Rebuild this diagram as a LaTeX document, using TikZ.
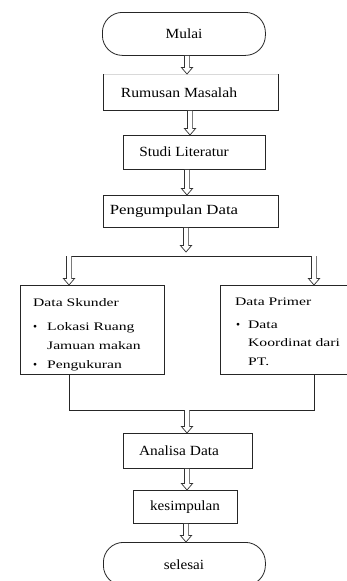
\documentclass[tikz,border=0pt]{standalone}
\usepackage{fontspec}
\setmainfont{Liberation Serif}
\usetikzlibrary{calc}
\newcommand{\hollowarrow}[2]{%
  \draw[hollowstyle] let \p1=(#1), \p2=(#2) in
    (\x1-2.6pt,\y1) -- (\x1-2.6pt,\y2+6.5pt) -- (\x1-5.6pt,\y2+6.5pt) -- (\x1,\y2)
    -- (\x1+5.6pt,\y2+6.5pt) -- (\x1+2.6pt,\y2+6.5pt) -- (\x1+2.6pt,\y1);}
\newcommand{\wide}[1]{\scalebox{1.36}[1]{#1}}
\begin{document}
\begin{tikzpicture}[x=1pt,y=-1pt,
  box/.style={draw=black!85, line width=0.8pt, inner sep=0pt, anchor=north west},
  term/.style={draw=black!85, line width=0.8pt, rounded corners=20pt, inner sep=0pt, anchor=north west},
  lbl/.style={font=\fontsize{14}{16}\selectfont, inner sep=0pt, text=black},
  sub/.style={font=\fontsize{11.5}{13}\selectfont, inner sep=0pt, anchor=base west, text=black},
  hollowstyle/.style={draw=black!80, fill=white, line width=0.7pt, line join=miter},
  link/.style={line width=0.8pt, draw=black!85}
]
\useasboundingbox (0,0) rectangle (347,581);
\fill[white] (0,0) rectangle (347,581);

% terminators and boxes
\node[term, minimum width=163pt, minimum height=43pt] (mulai) at (102,12) {};
\node[lbl] (tmulai) at (184,34) {\scalebox{1.1}[1]{Mulai}};

\node[box, minimum width=175pt, minimum height=36pt, draw=none] (rm) at (103,74) {};
\draw[draw=black!15, line width=0.6pt] (rm.north west) -- (rm.north east);
\draw[link] (rm.north west) -- (rm.south west) -- (rm.south east) -- (rm.north east);
\node[lbl] (trm) at (179,93) {\scalebox{1.12}[1]{Rumusan Masalah}};

\node[box, minimum width=142pt, minimum height=34pt] (sl) at (123,135) {};
\node[lbl] (tsl) at (184,152) {\scalebox{1.09}[1]{Studi Literatur}};

\node[box, minimum width=175pt, minimum height=32pt] (pd) at (103,195) {};
\node[lbl] (tpd) at (174,211) {\scalebox{1.2}[1]{Pengumpulan Data}};

\node[box, minimum width=144pt, minimum height=89pt] (ds) at (20,285) {};
\node[sub] (ds1) at (33,306) {\wide{Data Skunder}};
\node[sub] (ds2) at (33,330) {\textbullet};
\node[sub] (ds3) at (47,330) {\wide{Lokasi Ruang}};
\node[sub] (ds4) at (47,349) {\wide{Jamuan makan}};
\node[sub] (ds5) at (33,368) {\textbullet};
\node[sub] (ds6) at (47,368) {\wide{Pengukuran}};

\node[box, minimum width=130pt, minimum height=89pt] (dp) at (220,285) {};
\node[sub] (dp1) at (235,305) {\wide{Data Primer}};
\node[sub] (dp2) at (236,328) {\textbullet};
\node[sub] (dp3) at (248,328) {\wide{Data}};
\node[sub] (dp4) at (248,346) {\wide{Koordinat dari}};
\node[sub] (dp5) at (248,365) {\wide{PT.}};

\node[box, minimum width=129pt, minimum height=35pt] (ad) at (123,433) {};
\node[lbl] (tad) at (179,451) {\scalebox{1.1}[1]{Analisa Data}};

\node[box, minimum width=104pt, minimum height=33pt] (ks) at (133,490) {};
\node[lbl] (tks) at (185,507) {\scalebox{1.08}[1]{kesimpulan}};

\node[term, minimum width=162pt, minimum height=43pt] (sel) at (103,542) {};
\node[lbl] (tsel) at (184,565) {\scalebox{1.08}[1]{selesai}};

% x positions of the arrows
\coordinate (xa) at (187,0);
\coordinate (xb) at (190,0);
\coordinate (xc) at (186,0);
% junction coordinates
\coordinate (jtop) at (186,252);
\coordinate (jl) at (69,256);
\coordinate (jr) at (314,256);
\coordinate (bl) at (69,410);
\coordinate (br) at (314,410);
\coordinate (bm) at (187,410);

% connectors
\hollowarrow{mulai.south -| xa}{rm.north -| xa}
\hollowarrow{rm.south -| xb}{sl.north -| xb}
\hollowarrow{sl.south -| xa}{pd.north -| xa}
\hollowarrow{pd.south -| jtop}{jtop}
\draw[link] (jl) -- (jr);
\hollowarrow{jl}{ds.north -| jl}
\hollowarrow{jr}{dp.north -| jr}
\draw[link] (ds.south -| bl) -- (bl) -- (br) -- (dp.south -| br);
\hollowarrow{bm}{ad.north -| bm}
\hollowarrow{ad.south -| xa}{ks.north -| xa}
\hollowarrow{ks.south -| xc}{sel.north -| xc}
\end{tikzpicture}
\end{document}
